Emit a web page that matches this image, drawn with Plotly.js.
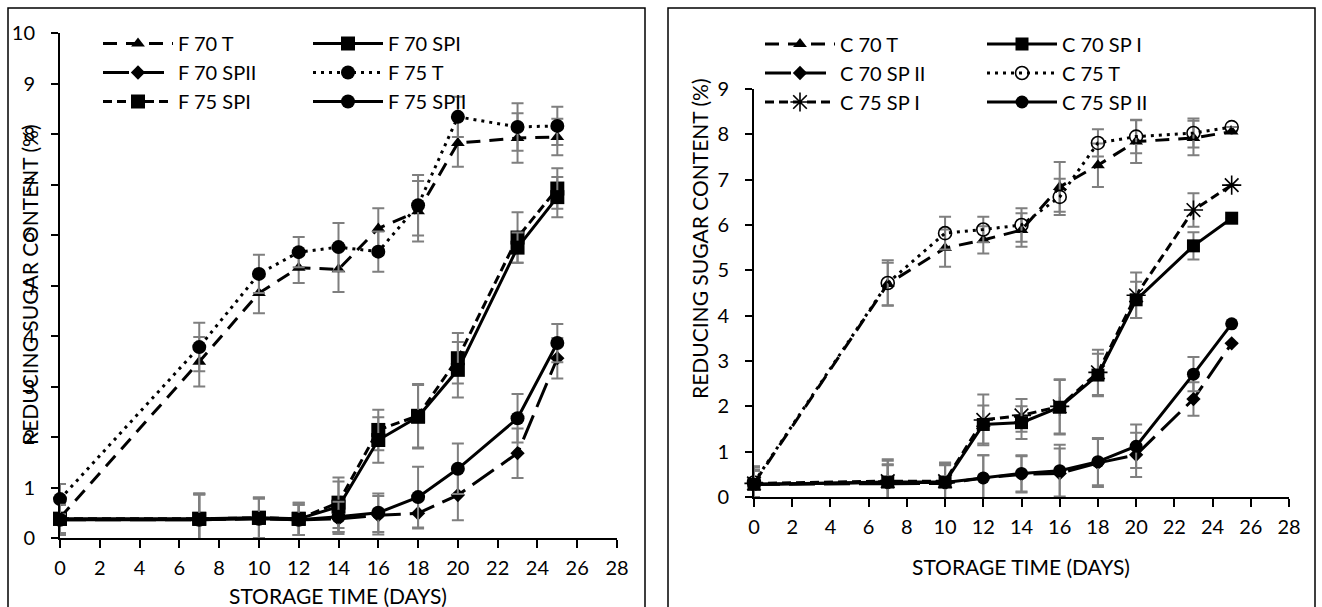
<!DOCTYPE html>
<html><head><meta charset="utf-8">
<script src="https://cdn.plot.ly/plotly-3.0.1.min.js"></script>
<style>html,body{margin:0;padding:0;background:#fff;}#chart{width:1322px;height:607px;}</style>
</head><body><div id="chart"></div>
<script>
// ---------- data ----------
const days = [0, 7, 10, 12, 14, 16, 18, 20, 23, 25];
const xTicks = [0, 2, 4, 6, 8, 10, 12, 14, 16, 18, 20, 22, 24, 26, 28];

// Left panel (F)
const F70T      = [0.40, 3.49, 4.85, 5.35, 5.32, 6.13, 6.47, 7.82, 7.92, 7.94];
const F70T_err  = [0.30, 0.49, 0.40, 0.30, 0.45, 0.40, 0.60, 0.47, 0.49, 0.36];
const F70SPI    = [0.38, 0.38, 0.40, 0.38, 0.62, 1.94, 2.40, 3.33, 5.75, 6.75];
const F70SPI_err= [0.30, 0.50, 0.40, 0.32, 0.50, 0.45, 0.63, 0.55, 0.30, 0.40];
const F70SPII   = [0.36, 0.36, 0.38, 0.36, 0.38, 0.45, 0.49, 0.85, 1.68, 3.56];
const F70SPII_err=[0.30, 0.50, 0.40, 0.30, 0.30, 0.38, 0.30, 0.50, 0.49, 0.40];
const F75T      = [0.77, 3.78, 5.23, 5.66, 5.76, 5.67, 6.59, 8.34, 8.14, 8.16];
const F75T_err  = [0.30, 0.48, 0.38, 0.30, 0.48, 0.40, 0.60, 0.40, 0.47, 0.38];
const F75SPI    = [0.38, 0.38, 0.40, 0.38, 0.70, 2.14, 2.42, 3.56, 5.95, 6.92];
const F75SPI_err= [0.30, 0.50, 0.40, 0.32, 0.50, 0.40, 0.63, 0.50, 0.50, 0.40];
const F75SPII   = [0.36, 0.36, 0.38, 0.36, 0.42, 0.50, 0.81, 1.37, 2.37, 3.86];
const F75SPII_err=[0.30, 0.50, 0.40, 0.30, 0.30, 0.38, 0.60, 0.50, 0.48, 0.38];

// Right panel (C)
const C70T      = [0.30, 4.70, 5.49, 5.67, 5.89, 6.84, 7.32, 7.84, 7.92, 8.06];
const C70T_err  = [0.30, 0.47, 0.41, 0.30, 0.37, 0.55, 0.48, 0.47, 0.38, 0.00];
const C70SPI    = [0.28, 0.33, 0.33, 1.60, 1.64, 1.98, 2.69, 4.35, 5.54, 6.15];
const C70SPI_err= [0.40, 0.50, 0.43, 0.42, 0.36, 0.60, 0.47, 0.40, 0.30, 0.00];
const C70SPII   = [0.28, 0.30, 0.30, 0.42, 0.50, 0.52, 0.75, 0.93, 2.16, 3.39];
const C70SPII_err=[0.30, 0.40, 0.40, 0.50, 0.40, 0.55, 0.53, 0.49, 0.37, 0.00];
const C75T      = [0.32, 4.72, 5.82, 5.90, 6.00, 6.62, 7.81, 7.95, 8.03, 8.16];
const C75T_err  = [0.35, 0.50, 0.36, 0.28, 0.37, 0.40, 0.30, 0.37, 0.32, 0.00];
const C75SPI    = [0.30, 0.35, 0.35, 1.70, 1.80, 2.00, 2.75, 4.45, 6.33, 6.88];
const C75SPI_err= [0.35, 0.45, 0.40, 0.56, 0.36, 0.60, 0.50, 0.50, 0.37, 0.00];
const C75SPII   = [0.28, 0.32, 0.32, 0.42, 0.52, 0.58, 0.78, 1.12, 2.71, 3.82];
const C75SPII_err=[0.30, 0.40, 0.40, 0.50, 0.40, 0.57, 0.52, 0.48, 0.38, 0.00];

const xTitle = 'STORAGE TIME (DAYS)';
const yTitle = 'REDUCING SUGAR CONTENT (%)';

// ---------- helpers ----------
const W = 1322, H = 607;
const fx = v => v / W;
const fy = v => (H - v) / H;
const FONT = 'Lato, "Open Sans", sans-serif';

const DASH_T   = '14px,9px';
const DASH_LONG= '26px,9px';
const DASH_DOT = '3px,5px';
const DASH_SH  = '9px,5px';

function tr(name, y, err, xa, ya, dash, symbol, size, legend, open) {
  return {
    type: 'scatter', mode: 'lines+markers', name: name,
    x: days, y: y, xaxis: xa, yaxis: ya, legend: legend,
    cliponaxis: false,
    line: {color: '#000', width: 3, dash: dash},
    marker: {symbol: symbol, size: size, color: '#000',
             line: {color: '#000', width: open ? 1.6 : 0}},
    error_y: {type: 'data', array: err, visible: true, color: '#7f7f7f', thickness: 2, width: 6}
  };
}

const data = [
  tr('F 70 T',   F70T,   F70T_err,   'x', 'y', DASH_T,   'triangle-up', 12, 'legend'),
  tr('F 70 SPII',F70SPII,F70SPII_err,'x', 'y', DASH_LONG,'diamond',     11, 'legend'),
  tr('F 75 SPI', F75SPI, F75SPI_err, 'x', 'y', DASH_SH,  'square',      14, 'legend'),
  tr('F 70 SPI', F70SPI, F70SPI_err, 'x', 'y', 'solid',  'square',      14, 'legend2'),
  tr('F 75 T',   F75T,   F75T_err,   'x', 'y', DASH_DOT, 'circle',      14, 'legend2'),
  tr('F 75 SPII',F75SPII,F75SPII_err,'x', 'y', 'solid',  'circle',      14, 'legend2'),

  tr('C 70 T',    C70T,   C70T_err,   'x2', 'y2', DASH_T,   'triangle-up', 12, 'legend3'),
  tr('C 70 SP II',C70SPII,C70SPII_err,'x2', 'y2', DASH_LONG,'diamond',     11, 'legend3'),
  tr('C 75 SP I', C75SPI, C75SPI_err, 'x2', 'y2', DASH_SH,  'asterisk-open', 16, 'legend3', true),
  tr('C 70 SP I', C70SPI, C70SPI_err, 'x2', 'y2', 'solid',  'square',      13, 'legend4'),
  tr('C 75 T',    C75T,   C75T_err,   'x2', 'y2', DASH_DOT, 'circle-open', 13, 'legend4', true),
  tr('C 75 SP II',C75SPII,C75SPII_err,'x2', 'y2', 'solid',  'circle',      13, 'legend4')
];

function xax(domain, anchor, inside) {
  return {
    domain: domain, anchor: anchor, range: [0, 28], tickvals: xTicks, ticktext: xTicks.map(String),
    showline: !inside, linecolor: '#000', linewidth: 2, showgrid: false, zeroline: false,
    ticks: inside ? 'inside' : 'outside', ticklen: 8, tickwidth: 2, tickcolor: '#000',
    showticklabels: !inside, ticklabelstandoff: 3,
    tickfont: {family: FONT, size: 20, color: '#000'}, fixedrange: true
  };
}
function yax(domain, anchor, range, inside) {
  return {
    domain: domain, anchor: anchor, range: range, dtick: 1, tick0: 0,
    showline: !inside, linecolor: '#000', linewidth: 2, showgrid: false, zeroline: false,
    ticks: inside ? 'inside' : 'outside', ticklen: 7, tickwidth: 2, tickcolor: '#000',
    showticklabels: !inside, ticklabelstandoff: 12,
    tickfont: {family: FONT, size: 20, color: '#000'}, fixedrange: true
  };
}
function leg(xpx, ytop) {
  return {x: fx(xpx), y: fy(ytop), xanchor: 'left', yanchor: 'top', orientation: 'v',
          bgcolor: 'rgba(0,0,0,0)', borderwidth: 0, itemwidth: 70, traceorder: 'normal',
          tracegroupgap: 0, font: {family: FONT, size: 20, color: '#000'}};
}

const LX = [fx(60), fx(617)], LY = [fy(538), fy(33)];
const RX = [fx(754), fx(1289)], RY = [fy(497), fy(89)];

const layout = {
  width: W, height: H, margin: {l: 0, r: 0, t: 0, b: 0},
  paper_bgcolor: '#fff', plot_bgcolor: 'rgba(0,0,0,0)',
  font: {family: FONT, color: '#000'},
  xaxis: xax(LX, 'y'), yaxis: yax(LY, 'x', [0, 10]),
  xaxis2: xax(RX, 'y2'), yaxis2: yax(RY, 'x2', [0, 9]),
  xaxis3: Object.assign(xax(LX, 'y', true), {overlaying: 'x'}),
  yaxis3: Object.assign(yax(LY, 'x', [0, 10], true), {overlaying: 'y'}),
  xaxis4: Object.assign(xax(RX, 'y2', true), {overlaying: 'x2'}),
  yaxis4: Object.assign(yax(RY, 'x2', [0, 9], true), {overlaying: 'y2'}),
  legend: leg(98, 24), legend2: leg(308, 24),
  legend3: leg(760, 24.5), legend4: leg(982, 24.5),
  annotations: [
    {text: yTitle, xref: 'paper', yref: 'paper', x: fx(29), y: fy(285), textangle: -90,
     showarrow: false, xanchor: 'center', yanchor: 'middle', font: {family: FONT, size: 21, color: '#000'}},
    {text: xTitle, xref: 'paper', yref: 'paper', x: fx(338), y: fy(595),
     showarrow: false, xanchor: 'center', yanchor: 'middle', font: {family: FONT, size: 21, color: '#000'}},
    {text: yTitle, xref: 'paper', yref: 'paper', x: fx(700), y: fy(238), textangle: -90,
     showarrow: false, xanchor: 'center', yanchor: 'middle', font: {family: FONT, size: 21, color: '#000'}},
    {text: xTitle, xref: 'paper', yref: 'paper', x: fx(1021), y: fy(566),
     showarrow: false, xanchor: 'center', yanchor: 'middle', font: {family: FONT, size: 21, color: '#000'}}
  ],
  shapes: [
    {type: 'rect', xref: 'paper', yref: 'paper', x0: fx(8), x1: fx(645), y0: -0.05, y1: fy(8),
     line: {color: '#000', width: 1.5}},
    {type: 'rect', xref: 'paper', yref: 'paper', x0: fx(668), x1: fx(1315), y0: -0.05, y1: fy(8),
     line: {color: '#000', width: 1.5}}
  ]
};

Plotly.newPlot('chart', data, layout, {displayModeBar: false, staticPlot: true});
</script>
</body></html>
